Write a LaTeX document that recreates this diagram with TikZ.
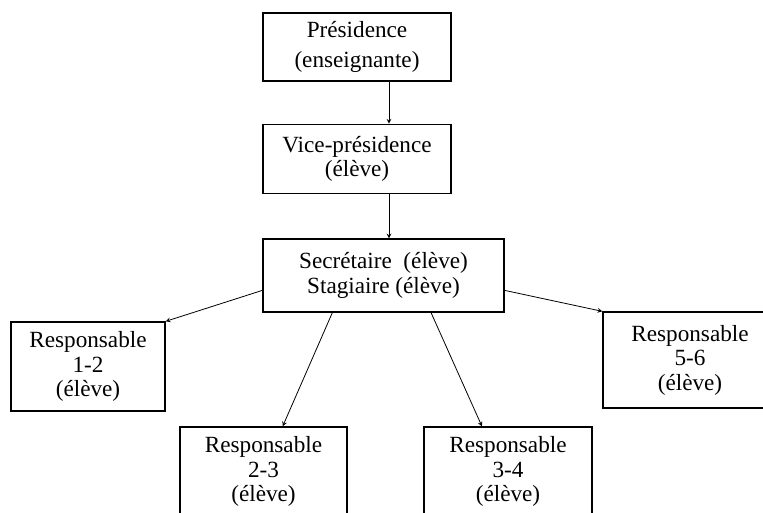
\documentclass[tikz,border=0pt]{standalone}
\usepackage{fontspec}
\setmainfont{Liberation Serif}
\begin{document}
\begin{tikzpicture}[
        x=0.75pt, y=-0.75pt,
        >=stealth,
        line width=0.6pt,
        every node/.style={font=\fontsize{17.4}{18.4}\selectfont, align=center},
        box/.style={draw, line width=1pt, inner sep=0pt}
    ]
    \useasboundingbox (0,0) rectangle (763,512);
    \clip (0,0) rectangle (763,512);
    % Top: presidency chain
    \node[box, minimum width=141pt, minimum height=51pt] (pres) at (357,47)
        {Présidence\\[3.5pt](enseignante)};
    \node[box, minimum width=141pt, minimum height=52pt] (vice) at (357,159)
        {Vice-présidence\\(élève)};
    \node[box, minimum width=180.75pt, minimum height=54.75pt] (sec) at (383.5,275.5)
        {Secrétaire~~(élève)\\Stagiaire (élève)};
    % Vertical axis of the arrows
    \coordinate (axis) at (389,0);
    \draw[->] (pres.south -| axis) -- (vice.north -| axis);
    \draw[->] (vice.south -| axis) -- (sec.north -| axis);

    % Responsables
    \node[box, minimum width=115.5pt, minimum height=66.75pt] (resp12) at (88,366.5)
        {Responsable\\1-2\\(élève)};
    \node[box, minimum width=125.25pt, minimum height=66.75pt] (resp23) at (263.5,471.5)
        {Responsable\\2-3\\(élève)};
    \node[box, minimum width=126pt, minimum height=66.75pt] (resp34) at (508,471.5)
        {Responsable\\3-4\\(élève)};
    \node[box, minimum width=130.5pt, minimum height=72pt] (resp56) at (690,360)
        {Responsable\\5-6\\(élève)};
    % Links
    \draw[->] (sec.187) -- (resp12.north east);
    \draw[->] (sec.216) -- (resp23.67);
    \draw[->] (sec.322) -- (resp34.120);
    \draw[->] (sec.353) -- (resp56.north west);
\end{tikzpicture}
\end{document}
